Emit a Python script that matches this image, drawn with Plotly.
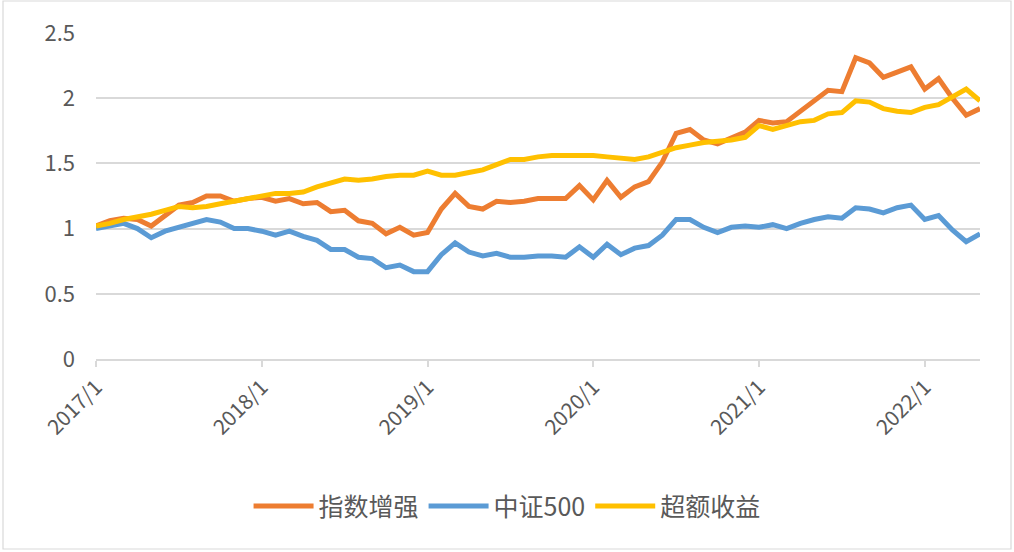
import plotly.graph_objects as go

# Monthly points from 2017/1 to 2022/5
months = [f"{2017 + i // 12}/{i % 12 + 1}" for i in range(65)]
tick_labels = ["2017/1", "2018/1", "2019/1", "2020/1", "2021/1", "2022/1"]

enhanced = [1.02, 1.06, 1.08, 1.07, 1.02, 1.10, 1.18, 1.20, 1.25, 1.25, 1.21, 1.23,
            1.24, 1.21, 1.23, 1.19, 1.20, 1.13, 1.14, 1.06, 1.04, 0.96, 1.01, 0.95,
            0.97, 1.15, 1.27, 1.17, 1.15, 1.21, 1.20, 1.21, 1.23, 1.23, 1.23, 1.33,
            1.22, 1.37, 1.24, 1.32, 1.36, 1.51, 1.73, 1.76, 1.68, 1.65, 1.69, 1.74,
            1.83, 1.81, 1.82, 1.90, 1.97, 2.06, 2.05, 2.31, 2.27, 2.16, 2.20, 2.24,
            2.07, 2.15, 2.00, 1.87, 1.92]

csi500 = [1.00, 1.02, 1.04, 1.00, 0.93, 0.98, 1.01, 1.04, 1.07, 1.05, 1.00, 1.00,
          0.98, 0.95, 0.98, 0.94, 0.91, 0.84, 0.84, 0.78, 0.77, 0.70, 0.72, 0.67,
          0.67, 0.80, 0.89, 0.82, 0.79, 0.81, 0.78, 0.78, 0.79, 0.79, 0.78, 0.86,
          0.78, 0.88, 0.80, 0.85, 0.87, 0.95, 1.07, 1.07, 1.01, 0.97, 1.01, 1.02,
          1.01, 1.03, 1.00, 1.04, 1.07, 1.09, 1.08, 1.16, 1.15, 1.12, 1.16, 1.18,
          1.07, 1.10, 0.99, 0.90, 0.96]

excess = [1.02, 1.04, 1.07, 1.09, 1.11, 1.14, 1.17, 1.16, 1.17, 1.19, 1.21, 1.23,
          1.25, 1.27, 1.27, 1.28, 1.32, 1.35, 1.38, 1.37, 1.38, 1.40, 1.41, 1.41,
          1.44, 1.41, 1.41, 1.43, 1.45, 1.49, 1.53, 1.53, 1.55, 1.56, 1.56, 1.56,
          1.56, 1.55, 1.54, 1.53, 1.55, 1.59, 1.62, 1.64, 1.66, 1.67, 1.68, 1.70,
          1.79, 1.76, 1.79, 1.82, 1.83, 1.88, 1.89, 1.98, 1.97, 1.92, 1.90, 1.89,
          1.93, 1.95, 2.01, 2.07, 1.98]

names = ["指数增强", "中证500", "超额收益"]
colors = ["#ED7D31", "#5B9BD5", "#FFC000"]
series = [enhanced, csi500, excess]

xs = list(range(len(months)))
tick_vals = [months.index(t) for t in tick_labels]

fig = go.Figure()
for name, color, vals in zip(names, colors, series):
    fig.add_trace(go.Scatter(
        x=xs, y=vals, name=name, mode="lines",
        line=dict(color=color, width=5),
        customdata=months, hovertemplate="%{customdata}: %{y}<extra>" + name + "</extra>",
    ))

font_family = "Noto Sans CJK SC, Noto Sans, sans-serif"

fig.update_layout(
    width=1014, height=552,
    margin=dict(l=96, r=34, t=33, b=193),
    paper_bgcolor="white", plot_bgcolor="white",
    font=dict(family=font_family, color="#595959", size=20),
    showlegend=True,
    legend=dict(orientation="h", x=0.465, xanchor="center", y=-0.452, yanchor="middle",
                font=dict(size=25, color="#595959"), itemwidth=60, tracegroupgap=0),
    shapes=[dict(type="rect", xref="paper", yref="paper",
                 x0=(3 - 96) / 884, x1=(1011 - 96) / 884,
                 y0=(359 - 549) / 326, y1=(359 - 1) / 326,
                 line=dict(color="#D9D9D9", width=1.2), fillcolor="rgba(0,0,0,0)",
                 layer="below")],
)

fig.update_xaxes(
    range=[0, len(months) - 1], tickvals=tick_vals, ticktext=tick_labels,
    tickangle=-45, showgrid=False, zeroline=False,
    showline=True, linecolor="#D9D9D9", linewidth=1.5,
    ticks="outside", ticklen=6, tickcolor="#D9D9D9", tickwidth=1.5,
    tickfont=dict(size=21, color="#595959"),
)
fig.update_yaxes(
    range=[0, 2.5], tickvals=[0, 0.5, 1, 1.5, 2, 2.5],
    ticktext=["0", "0.5", "1", "1.5", "2", "2.5"],
    showgrid=True, gridcolor="#D9D9D9", gridwidth=1.5, zeroline=False,
    showline=False, ticks="", ticklabelstandoff=20,
    tickfont=dict(size=22, color="#595959"),
)

fig.write_html("out.html", config={"displayModeBar": False},
               post_script="document.body.style.margin='0';")
